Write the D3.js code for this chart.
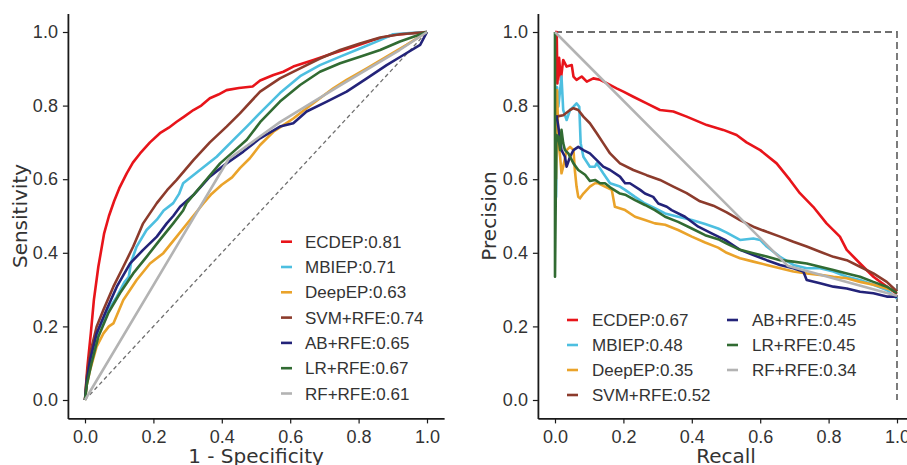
<!DOCTYPE html>
<html><head><meta charset="utf-8">
<script src="https://cdn.jsdelivr.net/npm/d3@7"></script>
<style>body{margin:0;background:#fff}svg{display:block}</style>
</head><body>
<svg id="chart" width="907" height="465"></svg>
<script>
// ---------- DATA ----------
const seriesNames = ["ECDEP","MBIEP","DeepEP","SVM+RFE","AB+RFE","LR+RFE","RF+RFE"];
const seriesColors = ["#e8141a","#4dbfe0","#eaa32a","#8c3b2c","#232379","#316b32","#b3b3b3"];
const rocAUC = ["0.81","0.71","0.63","0.74","0.65","0.67","0.61"];
const prAUC  = ["0.67","0.48","0.35","0.52","0.45","0.45","0.34"];
const tickValues = [0,0.2,0.4,0.6,0.8,1.0];

const rocECDEP = [[0,0],[0.003,0.04],[0.007,0.09],[0.017,0.181],[0.026,0.272],[0.039,0.362],[0.056,0.453],[0.07,0.5],[0.085,0.54],[0.1,0.575],[0.122,0.616],[0.14,0.645],[0.161,0.67],[0.19,0.7],[0.219,0.725],[0.245,0.74],[0.268,0.756],[0.29,0.77],[0.317,0.788],[0.34,0.8],[0.365,0.82],[0.39,0.83],[0.414,0.842],[0.45,0.848],[0.49,0.852],[0.512,0.868],[0.551,0.883],[0.58,0.892],[0.609,0.906],[0.668,0.924],[0.726,0.942],[0.785,0.96],[0.843,0.978],[0.901,0.992],[0.95,0.996],[1,1]];
const rocMBIEP = [[0,0],[0.005,0.05],[0.019,0.118],[0.039,0.19],[0.063,0.236],[0.093,0.281],[0.115,0.32],[0.128,0.335],[0.135,0.375],[0.151,0.417],[0.18,0.462],[0.21,0.49],[0.23,0.515],[0.258,0.535],[0.275,0.56],[0.287,0.589],[0.336,0.625],[0.385,0.661],[0.434,0.707],[0.473,0.743],[0.512,0.78],[0.57,0.834],[0.629,0.88],[0.687,0.91],[0.746,0.933],[0.804,0.955],[0.863,0.978],[0.901,0.994],[0.95,0.997],[1,1]];
const rocDeepEP = [[0,0],[0.005,0.04],[0.015,0.082],[0.034,0.145],[0.054,0.181],[0.07,0.2],[0.083,0.208],[0.112,0.272],[0.151,0.326],[0.19,0.371],[0.229,0.399],[0.268,0.444],[0.307,0.489],[0.346,0.534],[0.37,0.56],[0.4,0.585],[0.43,0.605],[0.453,0.63],[0.482,0.657],[0.512,0.693],[0.551,0.729],[0.58,0.747],[0.609,0.765],[0.648,0.793],[0.687,0.82],[0.726,0.847],[0.765,0.87],[0.824,0.901],[0.882,0.933],[0.94,0.965],[1,1]];
const rocSVM = [[0,0],[0.005,0.06],[0.015,0.127],[0.034,0.199],[0.054,0.245],[0.083,0.308],[0.112,0.362],[0.141,0.417],[0.17,0.48],[0.21,0.535],[0.24,0.57],[0.268,0.598],[0.317,0.652],[0.365,0.7],[0.414,0.743],[0.453,0.779],[0.512,0.838],[0.57,0.874],[0.629,0.901],[0.687,0.928],[0.746,0.951],[0.804,0.969],[0.863,0.985],[0.921,0.994],[1,1]];
const rocAB = [[0,0],[0.005,0.05],[0.015,0.109],[0.034,0.181],[0.063,0.245],[0.093,0.308],[0.132,0.371],[0.17,0.408],[0.21,0.444],[0.239,0.48],[0.258,0.5],[0.278,0.525],[0.317,0.557],[0.365,0.607],[0.414,0.643],[0.463,0.675],[0.512,0.711],[0.57,0.743],[0.609,0.752],[0.648,0.784],[0.707,0.811],[0.765,0.838],[0.824,0.874],[0.882,0.91],[0.931,0.9375],[0.98,0.965],[1,1]];
const rocLR = [[0,0],[0.005,0.04],[0.019,0.1],[0.039,0.172],[0.068,0.236],[0.102,0.29],[0.141,0.344],[0.18,0.389],[0.219,0.435],[0.258,0.48],[0.287,0.515],[0.297,0.535],[0.346,0.589],[0.395,0.643],[0.434,0.675],[0.473,0.707],[0.512,0.755],[0.57,0.811],[0.629,0.856],[0.687,0.892],[0.746,0.915],[0.804,0.933],[0.863,0.951],[0.921,0.974],[1,1]];
const rocRF = [[0,0],[0.42,0.655],[0.57,0.755],[0.75,0.857],[0.92,0.951],[1,1]];

const prECDEP = [[0,1],[0.005,1],[0.007,0.86],[0.012,0.93],[0.017,0.87],[0.024,0.924],[0.034,0.906],[0.049,0.91],[0.054,0.879],[0.063,0.87],[0.078,0.879],[0.093,0.865],[0.112,0.874],[0.132,0.87],[0.151,0.861],[0.18,0.847],[0.2,0.838],[0.229,0.824],[0.268,0.806],[0.307,0.788],[0.346,0.784],[0.385,0.77],[0.444,0.747],[0.492,0.734],[0.531,0.72],[0.56,0.7],[0.6,0.679],[0.648,0.643],[0.687,0.598],[0.716,0.562],[0.755,0.525],[0.794,0.48],[0.833,0.444],[0.853,0.408],[0.892,0.371],[0.931,0.335],[0.97,0.308],[1,0.288]];
const prMBIEP = [[0.003,0.55],[0.006,0.85],[0.0097,0.797],[0.015,0.842],[0.019,0.879],[0.024,0.788],[0.034,0.761],[0.044,0.788],[0.054,0.797],[0.063,0.806],[0.071,0.797],[0.075,0.698],[0.083,0.661],[0.102,0.634],[0.117,0.634],[0.122,0.643],[0.141,0.616],[0.161,0.589],[0.19,0.58],[0.205,0.571],[0.234,0.552],[0.263,0.534],[0.292,0.521],[0.322,0.507],[0.36,0.498],[0.4,0.489],[0.439,0.478],[0.477,0.466],[0.502,0.455],[0.541,0.435],[0.58,0.439],[0.6,0.435],[0.619,0.417],[0.658,0.389],[0.697,0.367],[0.736,0.358],[0.775,0.358],[0.814,0.349],[0.853,0.335],[0.892,0.326],[0.931,0.313],[0.97,0.299],[1,0.276]];
const prDeepEP = [[0.003,0.6],[0.006,0.842],[0.01,0.7],[0.015,0.661],[0.019,0.616],[0.024,0.634],[0.034,0.679],[0.044,0.688],[0.054,0.679],[0.058,0.625],[0.063,0.58],[0.068,0.552],[0.073,0.548],[0.083,0.561],[0.102,0.58],[0.117,0.589],[0.127,0.589],[0.146,0.58],[0.166,0.571],[0.175,0.525],[0.205,0.516],[0.234,0.498],[0.263,0.489],[0.292,0.48],[0.322,0.476],[0.36,0.462],[0.4,0.444],[0.439,0.428],[0.477,0.414],[0.502,0.4],[0.541,0.385],[0.58,0.376],[0.619,0.367],[0.658,0.358],[0.697,0.349],[0.736,0.344],[0.775,0.34],[0.814,0.335],[0.853,0.331],[0.892,0.321],[0.931,0.313],[0.97,0.303],[1,0.294]];
const prSVM = [[0.003,0.77],[0.024,0.774],[0.044,0.788],[0.054,0.793],[0.068,0.788],[0.083,0.77],[0.102,0.752],[0.122,0.725],[0.141,0.698],[0.161,0.67],[0.19,0.643],[0.229,0.625],[0.268,0.611],[0.307,0.598],[0.346,0.58],[0.385,0.562],[0.424,0.54],[0.463,0.528],[0.502,0.51],[0.541,0.489],[0.58,0.471],[0.619,0.457],[0.658,0.444],[0.697,0.43],[0.736,0.417],[0.775,0.403],[0.814,0.389],[0.853,0.38],[0.892,0.362],[0.931,0.344],[0.97,0.321],[1,0.295]];
const prAB = [[0.002,0.77],[0.005,0.77],[0.0097,0.743],[0.019,0.679],[0.029,0.661],[0.034,0.634],[0.044,0.661],[0.054,0.679],[0.068,0.688],[0.083,0.679],[0.102,0.67],[0.122,0.652],[0.141,0.634],[0.161,0.625],[0.19,0.607],[0.205,0.589],[0.219,0.589],[0.249,0.571],[0.263,0.561],[0.287,0.552],[0.302,0.534],[0.327,0.525],[0.341,0.516],[0.38,0.498],[0.419,0.471],[0.458,0.453],[0.497,0.435],[0.541,0.408],[0.58,0.394],[0.619,0.38],[0.658,0.367],[0.697,0.358],[0.726,0.349],[0.736,0.326],[0.775,0.317],[0.814,0.308],[0.853,0.303],[0.892,0.294],[0.931,0.29],[0.97,0.281],[1,0.281]];
const prLR = [[0,1],[0,0.335],[0.004,0.72],[0.0097,0.716],[0.015,0.679],[0.019,0.734],[0.024,0.698],[0.029,0.679],[0.039,0.67],[0.054,0.643],[0.068,0.625],[0.088,0.612],[0.102,0.595],[0.117,0.598],[0.132,0.589],[0.146,0.589],[0.161,0.578],[0.19,0.561],[0.205,0.558],[0.234,0.543],[0.263,0.53],[0.292,0.516],[0.322,0.498],[0.36,0.484],[0.4,0.466],[0.439,0.448],[0.477,0.437],[0.502,0.425],[0.541,0.408],[0.58,0.399],[0.619,0.39],[0.658,0.38],[0.697,0.376],[0.736,0.371],[0.775,0.362],[0.814,0.353],[0.853,0.344],[0.892,0.335],[0.931,0.321],[0.97,0.308],[1,0.29]];
const prRF = [[0,1],[0.68,0.365],[1,0.283]];

const rocRef = [[0,0],[1,1]];
const prRef = [[0,1],[1,1],[1,0]];

const rocSeries = [rocECDEP,rocMBIEP,rocDeepEP,rocSVM,rocAB,rocLR,rocRF];
const prSeries = [prECDEP,prMBIEP,prDeepEP,prSVM,prAB,prLR,prRF];

// ---------- DRAW ----------
const svg = d3.select("#chart");
const tickFont = "'Liberation Sans', Arial, sans-serif";
const labelFont = "'DejaVu Sans', sans-serif";

function panel(opts){
  const x = d3.scaleLinear().domain([-0.05,1.05]).range([opts.x0 - 0.05*342, opts.x0 + 1.05*342]);
  const y = d3.scaleLinear().domain([-0.05,1.05]).range([400 + 0.05*368, 400 - 1.05*368]);
  const g = svg.append("g");
  const line = d3.line().x(d=>x(d[0])).y(d=>y(d[1]));

  // reference dashed
  g.append("path").datum(opts.ref).attr("d", line)
    .attr("fill","none").attr("stroke", "#6e6e6e")
    .attr("stroke-width", opts.refW).attr("stroke-dasharray", opts.refDash);

  opts.series.forEach((s,i)=>{
    g.append("path").datum(s).attr("d", line)
      .attr("fill","none").attr("stroke", seriesColors[i])
      .attr("stroke-width", 2.6).attr("stroke-linejoin","round");
  });

  const xa = g.append("g").attr("transform",`translate(0,${y(-0.05)})`)
    .call(d3.axisBottom(x).tickValues(tickValues).tickFormat(d3.format(".1f")).tickSize(5).tickSizeOuter(0).tickPadding(7));
  const ya = g.append("g").attr("transform",`translate(${x(-0.05)},0)`)
    .call(d3.axisLeft(y).tickValues(tickValues).tickFormat(d3.format(".1f")).tickSize(5).tickSizeOuter(0).tickPadding(5));
  [xa,ya].forEach(a=>{
    a.select(".domain").attr("stroke","#1a1a1a").attr("stroke-width",1.8);
    a.selectAll(".tick line").attr("stroke","#1a1a1a").attr("stroke-width",1.2);
    a.selectAll(".tick text").attr("fill","#333").style("font-family",tickFont).style("font-size","18px");
  });

  g.append("text").attr("x",(x(0)+x(1))/2).attr("y",463).attr("text-anchor","middle")
    .style("font-family",labelFont).style("font-size","20px").attr("fill","#333").text(opts.xlabel);
  g.append("text").attr("transform",`translate(${opts.ylabX},${(y(0)+y(1))/2}) rotate(-90)`)
    .attr("text-anchor","middle").style("font-family",labelFont).style("font-size","20px").attr("fill","#333").text(opts.ylabel);

  // legend
  opts.legend.forEach((p,i)=>{
    const lg = g.append("g");
    lg.append("line").attr("x1",p.lx).attr("x2",p.lx+11).attr("y1",p.y).attr("y2",p.y)
      .attr("stroke",seriesColors[i]).attr("stroke-width",2.6);
    lg.append("text").attr("x",p.tx).attr("y",p.y).attr("dy","0.36em")
      .style("font-family",tickFont).style("font-size","17px").attr("fill","#333")
      .text(seriesNames[i] + ":" + opts.auc[i]);
  });
}

panel({x0:85, series:rocSeries, ref:rocRef, refW:1.3, refDash:"4,3",
  xlabel:"1 - Specificity", ylabel:"Sensitivity", ylabX:27, auc:rocAUC,
  legend: seriesNames.map((n,i)=>({lx:281, tx:305, y:241.7 + i*25.3}))});

panel({x0:555, series:prSeries, ref:prRef, refW:1.8, refDash:"7,4",
  xlabel:"Recall", ylabel:"Precision", ylabX:496, auc:prAUC,
  legend: seriesNames.map((n,i)=> i<4 ? ({lx:567, tx:592, y:320 + i*25}) : ({lx:727, tx:752, y:320 + (i-4)*25}))});
</script>
</body></html>
